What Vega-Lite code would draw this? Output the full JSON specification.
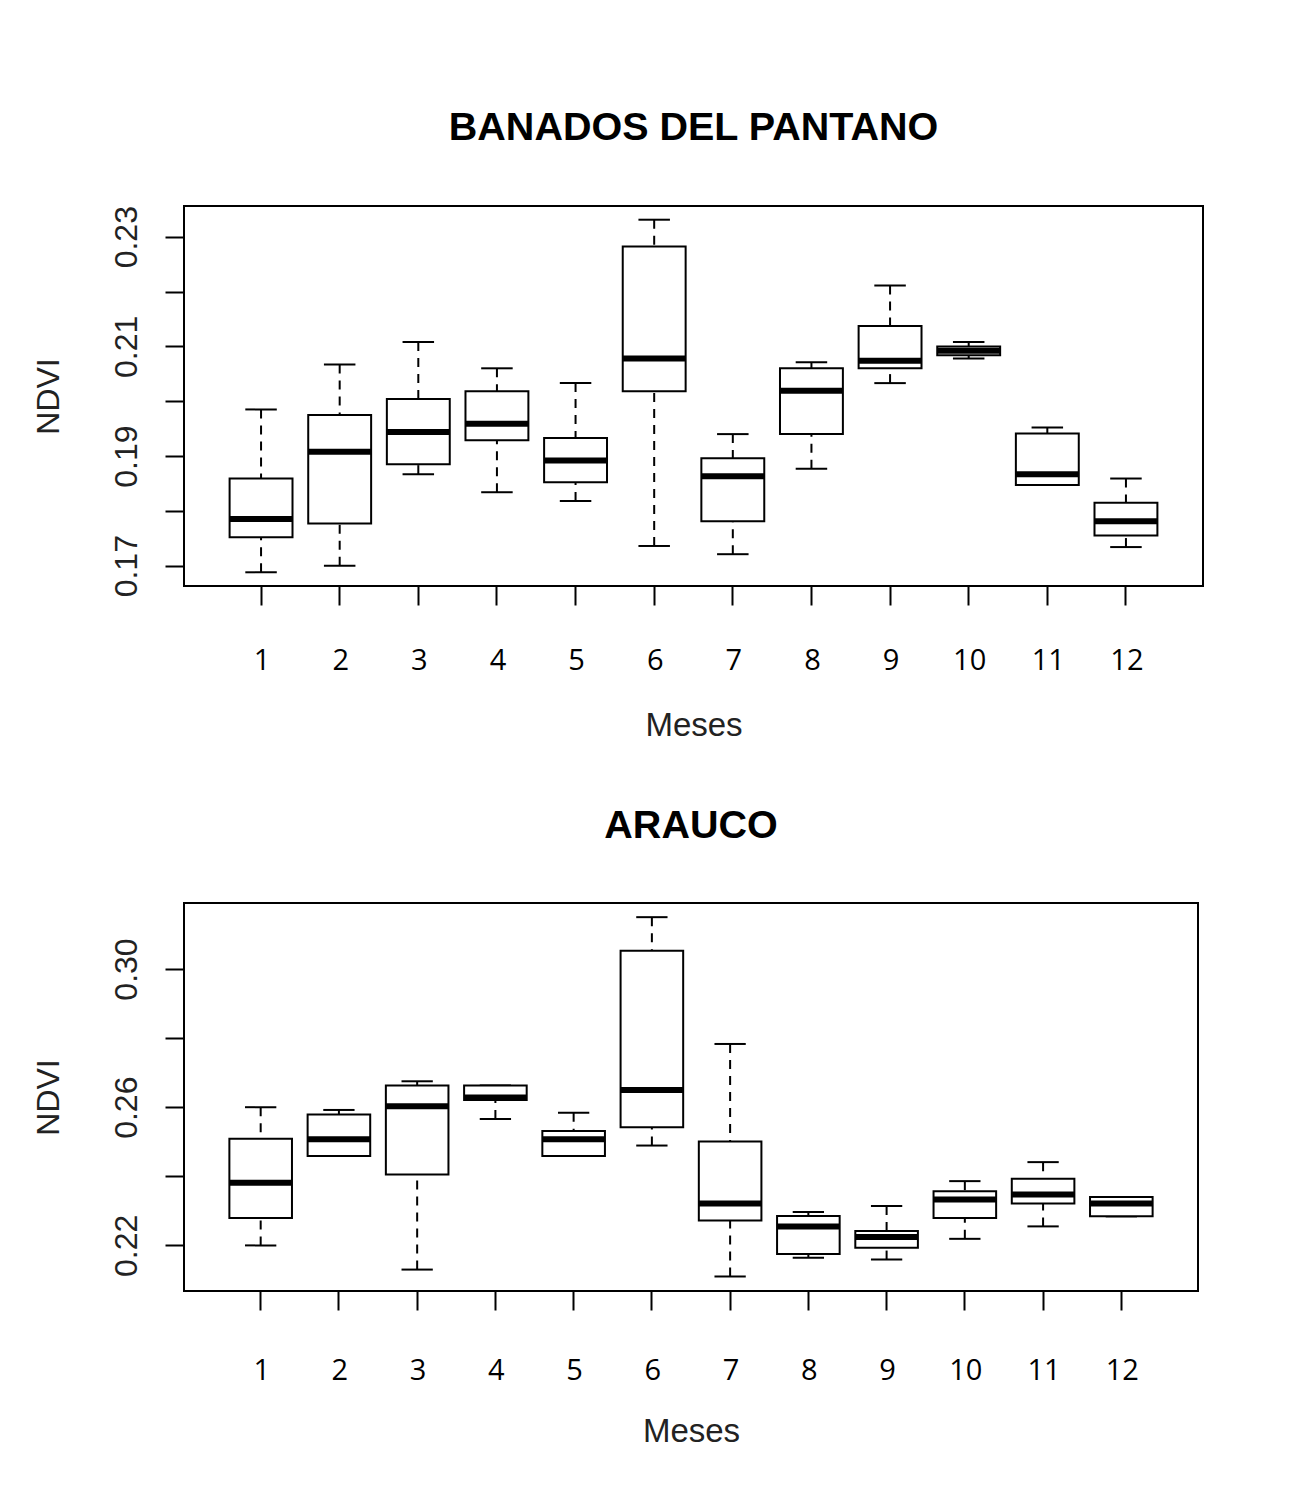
{
  "$schema": "https://vega.github.io/schema/vega-lite/v6.json",
  "background": "white",
  "padding": {"left": 31, "top": 107, "right": 5, "bottom": 5},
  "spacing": 61,
  "datasets": {
    "banados": [
      {"mes": 1, "lower": 0.1688, "q1": 0.1752, "median": 0.1785, "q3": 0.1859, "upper": 0.1985},
      {"mes": 2, "lower": 0.1700, "q1": 0.1777, "median": 0.1908, "q3": 0.1975, "upper": 0.2067},
      {"mes": 3, "lower": 0.1867, "q1": 0.1885, "median": 0.1944, "q3": 0.2004, "upper": 0.2108},
      {"mes": 4, "lower": 0.1834, "q1": 0.1929, "median": 0.1959, "q3": 0.2018, "upper": 0.2060},
      {"mes": 5, "lower": 0.1818, "q1": 0.1852, "median": 0.1892, "q3": 0.1933, "upper": 0.2033},
      {"mes": 6, "lower": 0.1736, "q1": 0.2018, "median": 0.2078, "q3": 0.2282, "upper": 0.2331},
      {"mes": 7, "lower": 0.1721, "q1": 0.1781, "median": 0.1863, "q3": 0.1896, "upper": 0.1940},
      {"mes": 8, "lower": 0.1877, "q1": 0.1940, "median": 0.2019, "q3": 0.2060, "upper": 0.2071},
      {"mes": 9, "lower": 0.2033, "q1": 0.2060, "median": 0.2074, "q3": 0.2137, "upper": 0.2211},
      {"mes": 10, "lower": 0.2078, "q1": 0.2084, "median": 0.2092, "q3": 0.2100, "upper": 0.2108},
      {"mes": 11, "lower": 0.1847, "q1": 0.1847, "median": 0.1867, "q3": 0.1941, "upper": 0.1952},
      {"mes": 12, "lower": 0.1734, "q1": 0.1755, "median": 0.1781, "q3": 0.1815, "upper": 0.1859}
    ],
    "arauco": [
      {"mes": 1, "lower": 0.2200, "q1": 0.2279, "median": 0.2381, "q3": 0.2509, "upper": 0.2600},
      {"mes": 2, "lower": 0.2459, "q1": 0.2459, "median": 0.2507, "q3": 0.2579, "upper": 0.2592},
      {"mes": 3, "lower": 0.2130, "q1": 0.2405, "median": 0.2603, "q3": 0.2663, "upper": 0.2675},
      {"mes": 4, "lower": 0.2566, "q1": 0.2621, "median": 0.2628, "q3": 0.2663, "upper": 0.2663},
      {"mes": 5, "lower": 0.2459, "q1": 0.2459, "median": 0.2507, "q3": 0.2531, "upper": 0.2584},
      {"mes": 6, "lower": 0.2489, "q1": 0.2542, "median": 0.2650, "q3": 0.3053, "upper": 0.3150},
      {"mes": 7, "lower": 0.2110, "q1": 0.2272, "median": 0.2321, "q3": 0.2501, "upper": 0.2783},
      {"mes": 8, "lower": 0.2164, "q1": 0.2175, "median": 0.2255, "q3": 0.2285, "upper": 0.2297},
      {"mes": 9, "lower": 0.2159, "q1": 0.2193, "median": 0.2224, "q3": 0.2242, "upper": 0.2314},
      {"mes": 10, "lower": 0.2219, "q1": 0.2279, "median": 0.2333, "q3": 0.2357, "upper": 0.2386},
      {"mes": 11, "lower": 0.2255, "q1": 0.2321, "median": 0.2347, "q3": 0.2393, "upper": 0.2441},
      {"mes": 12, "lower": 0.2284, "q1": 0.2284, "median": 0.2321, "q3": 0.2340, "upper": 0.2340}
    ]
  },
  "vconcat": [
    {
      "width": 1019,
      "height": 380,
      "data": {"name": "banados"},
      "title": {"text": "BANADOS DEL PANTANO", "font": "Liberation Sans", "fontSize": 39.5, "fontWeight": "bold", "color": "#000", "anchor": "middle", "baseline": "alphabetic", "offset": 26},
      "encoding": {
        "x": {
          "field": "mes", "type": "ordinal", "sort": "ascending",
          "scale": {"type": "band", "paddingInner": 0.2, "paddingOuter": 0.58},
          "axis": {"title": "Meses", "labelAngle": 0, "labelFont": "Open Sans", "labelFontSize": 29, "labelColor": "#000", "labelBaseline": "alphabetic", "labelPadding": 64, "labelOffset": 1, "titleFont": "Liberation Sans", "titleFontSize": 33, "titleFontWeight": "normal", "titleColor": "#222", "titleBaseline": "alphabetic", "titleY": 149}
        }
      },
      "layer": [
        {
          "mark": {"type": "rule", "strokeDash": [9, 7], "strokeWidth": 2, "color": "#000"},
          "encoding": {
            "y": {"field": "upper", "type": "quantitative", "scale": {"domain": [0.1663, 0.2356], "nice": false, "zero": false},
              "axis": {"title": "NDVI", "values": [0.17, 0.18, 0.19, 0.20, 0.21, 0.22, 0.23], "labelExpr": "round(datum.value*100) % 2 == 1 ? format(datum.value, '.2f') : ''", "labelAngle": 270, "labelAlign": "center", "labelBaseline": "alphabetic", "labelPadding": 29, "labelFont": "Liberation Sans", "labelFontSize": 32, "labelColor": "#222", "labelOverlap": false, "labelFlush": false, "titleFont": "Liberation Sans", "titleFontSize": 32, "titleFontWeight": "normal", "titleColor": "#222", "titleAngle": 270, "titleAlign": "center", "titleBaseline": "alphabetic", "titleX": -126, "titleY": 190}},
            "y2": {"field": "q3"}
          }
        },
        {
          "mark": {"type": "rule", "strokeDash": [9, 7], "strokeWidth": 2, "color": "#000"},
          "encoding": {"y": {"field": "lower", "type": "quantitative"}, "y2": {"field": "q1"}}
        },
        {
          "mark": {"type": "tick", "size": 31.5, "thickness": 2, "color": "#000", "opacity": 1},
          "encoding": {"y": {"field": "upper", "type": "quantitative"}}
        },
        {
          "mark": {"type": "tick", "size": 31.5, "thickness": 2, "color": "#000", "opacity": 1},
          "encoding": {"y": {"field": "lower", "type": "quantitative"}}
        },
        {
          "mark": {"type": "bar", "fill": "white", "stroke": "#000", "strokeWidth": 2},
          "encoding": {"y": {"field": "q1", "type": "quantitative"}, "y2": {"field": "q3"}}
        },
        {
          "mark": {"type": "tick", "size": 63, "thickness": 6, "color": "#000", "opacity": 1},
          "encoding": {"y": {"field": "median", "type": "quantitative"}}
        }
      ]
    },
    {
      "width": 1014,
      "height": 388,
      "data": {"name": "arauco"},
      "title": {"text": "ARAUCO", "font": "Liberation Sans", "fontSize": 39.5, "fontWeight": "bold", "color": "#000", "anchor": "middle", "baseline": "alphabetic", "offset": 26},
      "encoding": {
        "x": {
          "field": "mes", "type": "ordinal", "sort": "ascending",
          "scale": {"type": "band", "paddingInner": 0.2, "paddingOuter": 0.58},
          "axis": {"title": "Meses", "labelAngle": 0, "labelFont": "Open Sans", "labelFontSize": 29, "labelColor": "#000", "labelBaseline": "alphabetic", "labelPadding": 69, "labelOffset": 1, "titleFont": "Liberation Sans", "titleFontSize": 33, "titleFontWeight": "normal", "titleColor": "#222", "titleBaseline": "alphabetic", "titleY": 150}
        }
      },
      "layer": [
        {
          "mark": {"type": "rule", "strokeDash": [9, 7], "strokeWidth": 2, "color": "#000"},
          "encoding": {
            "y": {"field": "upper", "type": "quantitative", "scale": {"domain": [0.2068, 0.3191], "nice": false, "zero": false},
              "axis": {"title": "NDVI", "values": [0.22, 0.24, 0.26, 0.28, 0.30], "labelExpr": "round(datum.value*100) % 4 == 2 ? format(datum.value, '.2f') : ''", "labelAngle": 270, "labelAlign": "center", "labelBaseline": "alphabetic", "labelPadding": 29, "labelFont": "Liberation Sans", "labelFontSize": 32, "labelColor": "#222", "labelOverlap": false, "labelFlush": false, "titleFont": "Liberation Sans", "titleFontSize": 32, "titleFontWeight": "normal", "titleColor": "#222", "titleAngle": 270, "titleAlign": "center", "titleBaseline": "alphabetic", "titleX": -126, "titleY": 194}},
            "y2": {"field": "q3"}
          }
        },
        {
          "mark": {"type": "rule", "strokeDash": [9, 7], "strokeWidth": 2, "color": "#000"},
          "encoding": {"y": {"field": "lower", "type": "quantitative"}, "y2": {"field": "q1"}}
        },
        {
          "mark": {"type": "tick", "size": 31.3, "thickness": 2, "color": "#000", "opacity": 1},
          "encoding": {"y": {"field": "upper", "type": "quantitative"}}
        },
        {
          "mark": {"type": "tick", "size": 31.3, "thickness": 2, "color": "#000", "opacity": 1},
          "encoding": {"y": {"field": "lower", "type": "quantitative"}}
        },
        {
          "mark": {"type": "bar", "fill": "white", "stroke": "#000", "strokeWidth": 2},
          "encoding": {"y": {"field": "q1", "type": "quantitative"}, "y2": {"field": "q3"}}
        },
        {
          "mark": {"type": "tick", "size": 62.6, "thickness": 6, "color": "#000", "opacity": 1},
          "encoding": {"y": {"field": "median", "type": "quantitative"}}
        }
      ]
    }
  ],
  "config": {
    "font": "Liberation Sans",
    "view": {"stroke": "#000", "strokeWidth": 2},
    "axis": {"grid": false, "domain": false, "tickColor": "#000", "tickWidth": 2, "tickSize": 19}
  }
}
